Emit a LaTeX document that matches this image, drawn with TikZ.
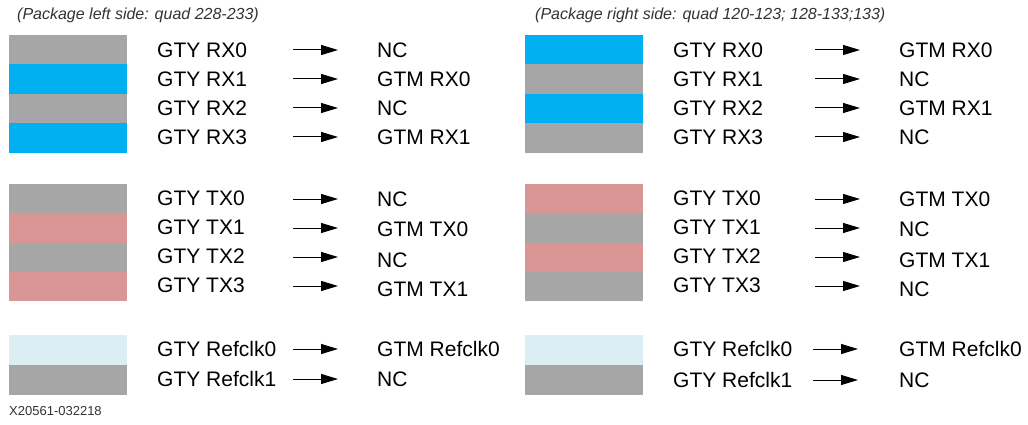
\documentclass[tikz,border=0pt]{standalone}
\usepackage{fontspec}
\setmainfont{Liberation Sans}
\usetikzlibrary{arrows.meta}
\definecolor{qdGray}{HTML}{A6A6A6}
\definecolor{qdBlue}{HTML}{00B0F0}
\definecolor{qdPink}{HTML}{D99694}
\definecolor{qdIce}{HTML}{DAEEF3}
\definecolor{qdInk}{HTML}{333333}
\tikzset{
 quads/.style={x=1pt,y=-1pt,line cap=butt},
 pin/.style={font=\fontsize{21}{24}\selectfont,anchor=west,inner sep=0pt,text=black},
 map/.style={draw=black,line width=1pt,-{Triangle[length=17pt,width=10pt]}},
 sidetitle/.style={font=\fontsize{16}{19}\selectfont\itshape,anchor=west,inner sep=0pt,text=qdInk},
 figid/.style={font=\fontsize{13}{15}\selectfont,anchor=west,inner sep=0pt,text=qdInk}
}

\begin{document}
\begin{tikzpicture}[quads]
 \useasboundingbox (0,0) rectangle (1028,425);
 % stripes, left package side
 \foreach \c [count=\i from 0] in {qdGray,qdBlue,qdGray,qdBlue}
  {\fill[\c] (9,35+29.5*\i) rectangle (127,64.5+29.5*\i);}
 \foreach \c [count=\i from 0] in {qdGray,qdPink,qdGray,qdPink}
  {\fill[\c] (9,184+29.3*\i) rectangle (127,213.3+29.3*\i);}
 \fill[qdIce] (9,335) rectangle (127,365);
 \fill[qdGray] (9,365) rectangle (127,395);
 % stripes, right package side
 \foreach \c [count=\i from 0] in {qdBlue,qdGray,qdBlue,qdGray}
  {\fill[\c] (525,35+29.5*\i) rectangle (643,64.5+29.5*\i);}
 \foreach \c [count=\i from 0] in {qdPink,qdGray,qdPink,qdGray}
  {\fill[\c] (525,184+29.3*\i) rectangle (643,213.3+29.3*\i);}
 \fill[qdIce] (525,335) rectangle (643,365);
 \fill[qdGray] (525,365) rectangle (643,395);
 % left side mapping
 \foreach \n/\y/\t in {0/50/NC,1/79/GTM RX0,2/108/NC,3/137/GTM RX1}{
  \node[pin] (lrx\n) at (157,\y) {GTY RX\n};
  \node[pin] (lrxo\n) at (377,\y) {\t};
  \coordinate (lrxa\n) at (293,\y);
  \coordinate (lrxb\n) at (338,\y);
  \draw[map] (lrxa\n) -- (lrxb\n);}
 \foreach \n/\y/\yr/\t in {0/198/199/NC,1/227/229/GTM TX0,2/256/260/NC,3/285/289/GTM TX1}{
  \node[pin] (ltx\n) at (157,\y) {GTY TX\n};
  \node[pin] (ltxo\n) at (377,\yr) {\t};
  \coordinate (ltxa\n) at (293,\y+1);
  \coordinate (ltxb\n) at (338,\y+1);
  \draw[map] (ltxa\n) -- (ltxb\n);}
 \foreach \n/\y/\t in {0/349/GTM Refclk0,1/379/NC}{
  \node[pin] (lrc\n) at (157,\y) {GTY Refclk\n};
  \node[pin] (lrco\n) at (377,\y) {\t};
  \coordinate (lrca\n) at (293,\y);
  \coordinate (lrcb\n) at (338,\y);
  \draw[map] (lrca\n) -- (lrcb\n);}
 % right side mapping
 \foreach \n/\y/\t in {0/50/GTM RX0,1/79/NC,2/108/GTM RX1,3/137/NC}{
  \node[pin] (rrx\n) at (673,\y) {GTY RX\n};
  \node[pin] (rrxo\n) at (899,\y) {\t};
  \coordinate (rrxa\n) at (815,\y);
  \coordinate (rrxb\n) at (860,\y);
  \draw[map] (rrxa\n) -- (rrxb\n);}
 \foreach \n/\y/\yr/\t in {0/198/199/GTM TX0,1/227/229/NC,2/256/260/GTM TX1,3/285/289/NC}{
  \node[pin] (rtx\n) at (673,\y) {GTY TX\n};
  \node[pin] (rtxo\n) at (899,\yr) {\t};
  \coordinate (rtxa\n) at (815,\y+1);
  \coordinate (rtxb\n) at (860,\y+1);
  \draw[map] (rtxa\n) -- (rtxb\n);}
 \foreach \n/\y/\t in {0/349/GTM Refclk0,1/380/NC}{
  \node[pin] (rrc\n) at (673,\y) {GTY Refclk\n};
  \node[pin] (rrco\n) at (899,\y) {\t};
  \coordinate (rrca\n) at (813,\y);
  \coordinate (rrcb\n) at (858,\y);
  \draw[map] (rrca\n) -- (rrcb\n);}
 \node[sidetitle] (ltitle) at (17,15) {(Package left side: quad 228-233)};
 \node[sidetitle] (rtitle) at (535,15) {(Package right side: quad 120-123; 128-133;133)};
 \node[figid] (fig) at (9,411) {X20561-032218};
\end{tikzpicture}
\end{document}
